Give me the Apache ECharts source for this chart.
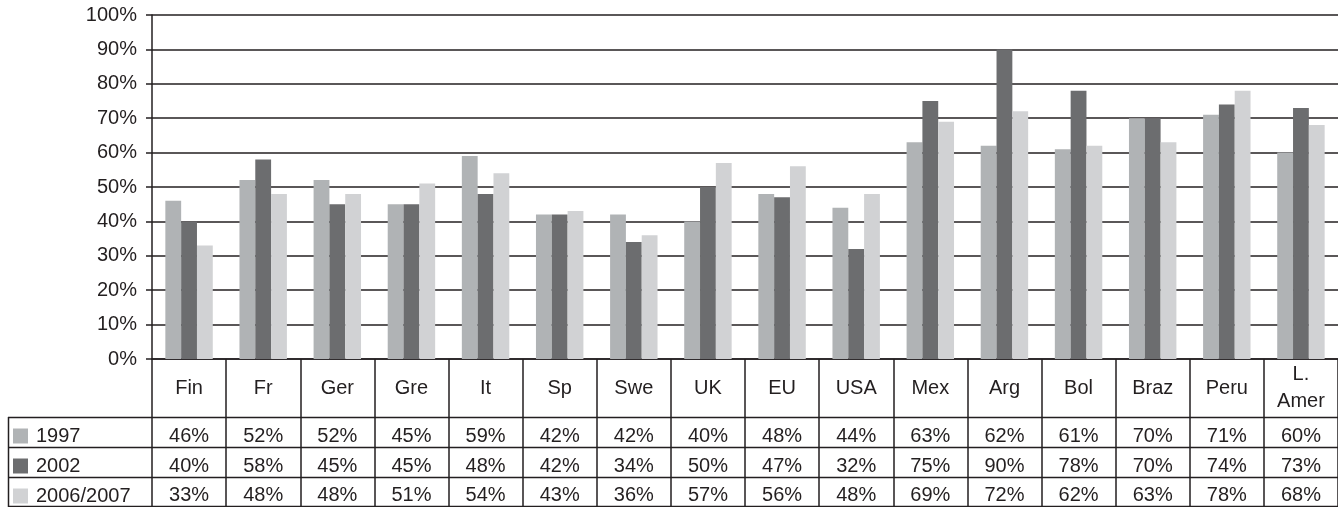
<!DOCTYPE html>
<html>
<head>
<meta charset="utf-8">
<script src="https://cdn.jsdelivr.net/npm/echarts@6/dist/echarts.min.js"></script>
<style>
html,body{margin:0;padding:0;background:#fff;}
#c{width:1338px;height:507px;}
</style>
</head>
<body>
<div id="c"></div>
<script>
var categories = ['Fin','Fr','Ger','Gre','It','Sp','Swe','UK','EU','USA','Mex','Arg','Bol','Braz','Peru','L.\nAmer'];
var seriesNames = ['1997','2002','2006/2007'];
var v1997 = [46,52,52,45,59,42,42,40,48,44,63,62,61,70,71,60];
var v2002 = [40,58,45,45,48,42,34,50,47,32,75,90,78,70,74,73];
var v2006 = [33,48,48,51,54,43,36,57,56,48,69,72,62,63,78,68];
var yTicks = {min:0, max:100, interval:10};

var seriesValues = [v1997, v2002, v2006];
var colors = ['#b0b3b5', '#6c6d6f', '#d1d2d4'];
var lineColor = '#231f20';
var FONT = "'Liberation Sans', Arial, sans-serif";
var FS = 20;

var G = {left:152, top:15, width:1190, height:344};
var tableBottom = 507;
var rowLines = [417.5, 447.5, 477.5, 506.5];
var rowCenters = [436, 466, 495];

var chart = echarts.init(document.getElementById('c'), null, {renderer:'canvas'});

var xAxes = [{
  type:'category', data:categories, gridIndex:0, position:'bottom',
  axisLine:{show:true, lineStyle:{color:lineColor, width:1.5}},
  axisTick:{show:true, length: tableBottom - (G.top+G.height), lineStyle:{color:lineColor, width:1.5}},
  axisLabel:{interval:0, margin:29, verticalAlign:'middle', fontSize:FS, fontFamily:FONT, color:lineColor, lineHeight:27},
  splitLine:{show:false}
}];
seriesValues.forEach(function(vals, i){
  xAxes.push({
    type:'category', data:categories, gridIndex:0, position:'bottom', offset:0,
    axisLine:{show:false}, axisTick:{show:false}, splitLine:{show:false},
    axisLabel:{interval:0, margin: rowCenters[i] - (G.top+G.height), verticalAlign:'middle',
      fontSize:FS, fontFamily:FONT, color:lineColor,
      formatter:(function(arr){ return function(val, idx){ return arr[idx] + '%'; }; })(vals)}
  });
});

var graphics = [];
rowLines.forEach(function(y){
  graphics.push({type:'line', shape:{x1:8, y1:y, x2:1338, y2:y}, style:{stroke:lineColor, lineWidth:1.5}, z:10});
});
graphics.push({type:'line', shape:{x1:8.5, y1:417, x2:8.5, y2:507}, style:{stroke:lineColor, lineWidth:1.5}, z:10});

chart.setOption({
  animation:false,
  textStyle:{fontFamily:FONT},
  grid:{left:G.left, top:G.top, width:G.width, height:G.height, containLabel:false},
  legend:{
    orient:'vertical', left:13, top:426, padding:0, itemGap:10,
    itemWidth:15, itemHeight:15, icon:'rect', selectedMode:false,
    data:seriesNames,
    textStyle:{fontSize:FS, fontFamily:FONT, color:lineColor, lineHeight:20, padding:[0,0,0,3]}
  },
  xAxis:xAxes,
  yAxis:{
    type:'value', min:yTicks.min, max:yTicks.max, interval:yTicks.interval,
    axisLine:{show:true, lineStyle:{color:lineColor, width:1.5}},
    axisTick:{show:true, length:6, lineStyle:{color:lineColor, width:1.5}},
    axisLabel:{formatter:'{value}%', fontSize:FS, fontFamily:FONT, color:lineColor, margin:15},
    splitLine:{show:true, lineStyle:{color:lineColor, width:1.5}}
  },
  series: seriesValues.map(function(vals, i){
    return {
      name:seriesNames[i], type:'bar', xAxisIndex:0, data:vals,
      barGap:'0%', barCategoryGap:'36%',
      itemStyle:{color:colors[i]}
    };
  }),
  graphic:graphics
});
</script>
</body>
</html>
